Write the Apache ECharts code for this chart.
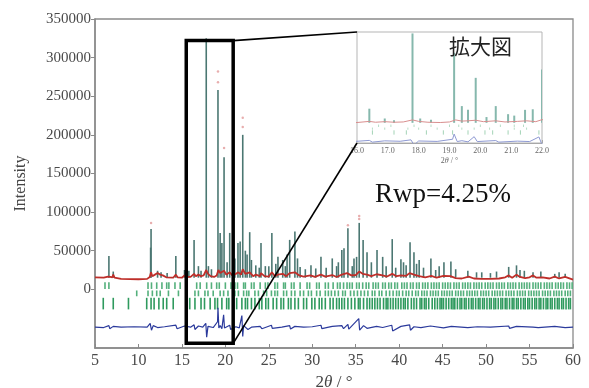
<!DOCTYPE html>
<html>
<head>
<meta charset="utf-8">
<script src="https://cdn.jsdelivr.net/npm/echarts@6/dist/echarts.min.js"></script>
<style>
  html, body { margin: 0; padding: 0; background: #fff; }
  #main { width: 589px; height: 388px; }
</style>
</head>
<body>
<div id="main"></div>
<script>
// observed reflections: position (2theta) and peak top (counts)
const peakPos = [6.6, 7.1, 11.4, 11.45, 12.2, 14.3, 15.3, 16.4, 16.9, 17.8, 18.05, 19.15, 19.4, 19.6, 19.85,
  20.2, 20.5, 21.1, 21.45, 21.7, 22.0, 22.5, 22.8, 23.5, 24.1, 24.6, 25.35, 26.05, 26.6, 27.4, 28.0, 28.6,
  29.85, 31.0, 32.3, 33.4, 33.65, 34.1, 34.6, 35.4, 35.85, 36.3, 37.45, 38.1, 39.2, 40.2, 40.8, 41.25, 41.7,
  42.3, 43.65, 45.15, 45.95, 47.9, 48.9, 52.6, 53.5, 53.9, 55.4, 57.9, 59.1];
const peakTop = [43000, 23000, 54000, 78000, 24000, 43000, 25000, 64000, 30000, 325000, 30000, 258000, 73000, 60000, 171000,
  35000, 73000, 40000, 60000, 62000, 200000, 45000, 74000, 31000, 60000, 30000, 73000, 42000, 38000, 64000, 75000, 29000,
  31000, 42000, 40000, 51000, 53000, 79000, 30000, 86000, 64000, 48000, 51000, 42000, 65000, 39000, 31000, 61000, 48000,
  38000, 40000, 35000, 36000, 24000, 22000, 29000, 31000, 25000, 22000, 20000, 20000];
// weaker reflections in the forest between the main peaks
const minorPos = [12.6, 13.3, 15.8, 17.2, 18.4, 20.9, 22.3, 23.0, 23.9, 25.0, 25.8, 26.9, 27.1, 28.3, 29.2, 30.4,
  31.6, 32.8, 33.0, 34.8, 35.1, 36.8, 38.5, 39.6, 40.5, 42.0, 42.8, 44.2, 44.6, 46.5, 49.5, 50.5, 51.2, 54.4, 56.3, 58.4];
const minorTop = [22000, 21000, 24000, 24000, 26000, 45000, 50000, 38000, 28000, 30000, 33000, 30000, 45000, 40000, 26000, 27000,
  28000, 30000, 35000, 40000, 42000, 35000, 30000, 28000, 35000, 33000, 28000, 25000, 30000, 26000, 22000, 21000, 23000, 24000, 23000, 22000];
const stickBase = 15000;

// observed points sitting above the strongest peaks
const obsDots = [[11.45, 86000], [19.15, 282000], [19.15, 268000], [19.85, 183000], [22.0, 222000],
  [22.0, 210000], [34.1, 83000], [35.4, 95000], [35.4, 91000]];

// calculated profile (red)
const calcX = [5.0, 6.0, 6.5, 6.6, 6.75, 7.0, 7.1, 7.25, 8.0, 10.0, 11.0, 11.3, 11.45, 11.6, 11.9, 12.2, 12.5, 12.8,
  13.2, 14.0, 14.3, 14.5, 15.0, 15.3, 15.6, 16.0, 16.4, 16.6, 16.9, 17.2, 17.5, 17.8, 18.0, 18.3, 18.7, 19.0, 19.2,
  19.4, 19.6, 19.85, 20.1, 20.5, 20.8, 21.2, 21.5, 21.8, 22.0, 22.3, 22.8, 23.2, 23.5, 24.0, 24.1, 24.5, 25.0, 25.35,
  25.7, 26.0, 26.6, 27.0, 27.4, 28.0, 28.5, 29.0, 29.8, 30.3, 31.0, 31.5, 32.3, 32.8, 33.4, 34.0, 34.5, 35.0, 35.4,
  35.8, 36.3, 36.8, 37.4, 38.1, 38.6, 39.2, 39.7, 40.2, 40.8, 41.2, 41.7, 42.3, 43.0, 43.7, 44.3, 45.1, 45.9, 46.5,
  47.2, 48.0, 48.6, 49.5, 50.5, 51.5, 52.2, 52.6, 53.0, 53.5, 53.9, 54.5, 55.0, 55.4, 55.8, 56.5, 57.3, 57.9, 58.4,
  59.1, 60.0];
const calcY = [15500, 15000, 16500, 19000, 16000, 15500, 19000, 15000, 13500, 13000, 13500, 16000, 22000, 17000, 19000, 21000, 19000, 18000,
  15500, 15000, 19000, 15500, 15000, 18000, 16000, 16000, 20000, 17000, 19000, 17000, 18000, 25000, 20000, 17000, 16000, 18000, 25000,
  21000, 22000, 24000, 19000, 22000, 18000, 20000, 22000, 19000, 26000, 20000, 22000, 17000, 19000, 17000, 21000, 17000, 16500, 22000,
  17000, 19000, 20000, 17000, 21000, 22000, 18000, 16500, 18000, 16000, 19000, 16500, 18500, 16000, 19000, 21000, 18000, 18500, 23000,
  20000, 19000, 17000, 19500, 18000, 16500, 20000, 17000, 18000, 17500, 21000, 19000, 17000, 15500, 17500, 15000, 17500, 17000, 14500,
  14000, 16500, 14000, 13500, 13500, 14000, 15500, 18000, 15000, 19000, 16000, 14500, 15500, 18000, 15000, 15500, 14000, 16500, 14000,
  16000, 12500];

// difference curve (blue)
const diffX = [5, 6.0, 6.6, 6.7, 7.1, 8, 9.5, 11.0, 11.35, 11.5, 11.7, 12.2, 13, 14.3, 14.45, 15.3, 16.0, 16.4, 16.5, 16.9,
  17.4, 17.75, 17.85, 18.0, 18.6, 19.1, 19.15, 19.25, 19.4, 19.6, 19.8, 19.9, 20.5, 20.6, 21.2, 21.6, 21.9, 22.0, 22.1,
  22.6, 23.0, 24.0, 24.2, 25.3, 25.4, 26.5, 27.4, 27.5, 28.0, 29, 30, 31, 31.1, 32.3, 33.4, 33.6, 34.1, 34.2, 35.35,
  35.45, 35.9, 36.3, 37.4, 38.1, 39.15, 39.25, 40.2, 41.2, 41.3, 41.7, 42.5, 43.6, 45.1, 46.0, 47.9, 49, 50.5, 52.6,
  52.7, 53.5, 55.4, 56, 57.9, 59.1, 60];
const diffY = [-49000, -49500, -47000, -51000, -48000, -49000, -48500, -49000, -44000, -53000, -47000, -49500, -48500, -46500, -51000, -47500, -49000, -46000, -52000, -47500,
  -49000, -44000, -62000, -48000, -49500, -42000, -24000, -50000, -47000, -51000, -33000, -50000, -46500, -52000, -48500, -50000, -34000, -61000, -47000,
  -52000, -49000, -48000, -51000, -46500, -50500, -49000, -47000, -51500, -48000, -49000, -48500, -46500, -51000, -48000, -47000, -51000, -45500, -51500, -38000,
  -53000, -47000, -50500, -48000, -49500, -46500, -54000, -48000, -46000, -53000, -48500, -49500, -47500, -50000, -48000, -49500, -48500, -49000, -47500,
  -50500, -48000, -49000, -49500, -48000, -49500, -49000];

// Bragg positions of the three phases (green tick rows)
const tickRow1 = [6.15, 6.6, 11.1, 11.5, 12.1, 12.7, 13.25, 13.5, 14.2, 14.8, 16.7, 17.1, 17.85, 18.4, 19.0, 19.3, 20.0,
  20.65, 21.1, 21.4, 22.1, 22.3, 23.0, 23.3, 24.0, 24.6, 24.9, 25.7, 26.0, 26.7, 26.9, 27.6, 27.9, 28.6, 29.4, 29.7,
  30.5, 30.8, 31.5, 31.85, 32.4, 32.9, 33.2, 33.6, 34.0, 34.3, 34.6, 35.1, 35.4, 35.8, 36.2, 36.5, 37.0, 37.3, 37.6,
  38.1, 38.4, 38.8, 39.1, 39.5, 39.8, 40.3, 40.6, 40.9, 41.3, 41.6, 42.0, 42.3, 42.7, 43.0, 43.3, 43.7, 44.0, 44.3,
  44.6, 45.0, 45.3, 45.6, 45.9, 46.3, 46.6, 46.9, 47.3, 47.6, 47.9, 48.2, 48.6, 48.9, 49.2, 49.5, 49.9, 50.2, 50.5,
  50.8, 51.2, 51.5, 51.8, 52.1, 52.5, 52.8, 53.1, 53.4, 53.8, 54.1, 54.4, 54.7, 55.0, 55.4, 55.7, 56.0, 56.3, 56.7,
  57.0, 57.3, 57.6, 58.0, 58.3, 58.6, 58.9, 59.3, 59.6, 59.9];
const tickRow2 = [9.8, 11.1, 11.6, 12.1, 12.5, 13.45, 14.6, 16.5, 16.9, 17.65, 18.0, 18.6, 19.4, 19.8, 20.3, 21.1, 21.5,
  22.1, 22.45, 22.7, 23.4, 23.8, 24.4, 24.75, 25.3, 25.7, 26.0, 26.7, 27.05, 27.6, 28.0, 28.6, 29.0, 29.55, 29.9, 30.5,
  30.9, 31.5, 31.85, 32.2, 32.6, 33.0, 33.5, 33.8, 34.4, 34.8, 35.2, 35.6, 36.0, 36.4, 36.9, 37.2, 37.7, 38.0, 38.5,
  38.9, 39.3, 39.7, 40.0, 40.4, 40.8, 41.1, 41.5, 41.9, 42.2, 42.6, 42.9, 43.2, 43.6, 43.9, 44.2, 44.5, 44.9, 45.2,
  45.5, 45.8, 46.1, 46.5, 46.8, 47.1, 47.4, 47.8, 48.1, 48.4, 48.7, 49.0, 49.4, 49.7, 50.0, 50.3, 50.7, 51.0, 51.3,
  51.6, 51.9, 52.3, 52.6, 52.9, 53.2, 53.6, 53.9, 54.2, 54.5, 54.9, 55.2, 55.5, 55.8, 56.1, 56.5, 56.8, 57.1, 57.4,
  57.8, 58.1, 58.4, 58.7, 59.1, 59.4, 59.7];
const tickRow3 = [5.95, 7.1, 8.85, 10.95, 11.45, 11.8, 12.35, 12.85, 13.25, 14.0, 15.9, 16.5, 17.2, 17.6, 18.25, 18.8,
  19.1, 19.6, 20.15, 20.4, 20.9, 21.3, 21.9, 22.3, 22.55, 23.0, 23.4, 23.9, 24.2, 24.65, 24.95, 25.5, 25.9, 26.4,
  26.7, 27.25, 27.55, 28.0, 28.4, 29.0, 29.35, 29.95, 30.3, 30.8, 31.1, 31.5, 32.05, 32.4, 32.8, 33.1, 33.4, 33.7,
  34.1, 34.5, 34.9, 35.3, 35.5, 35.9, 36.3, 36.6, 36.9, 37.2, 37.5, 37.8, 38.2, 38.5, 38.7, 39.0, 39.3, 39.6, 39.9,
  40.2, 40.5, 40.7, 41.0, 41.4, 41.7, 42.0, 42.4, 42.6, 42.9, 43.1, 43.4, 43.8, 44.1, 44.4, 44.7, 44.9, 45.1, 45.4,
  45.7, 46.0, 46.2, 46.4, 46.7, 47.0, 47.2, 47.5, 47.7, 48.0, 48.3, 48.5, 48.8, 49.1, 49.3, 49.6, 49.8, 50.1, 50.4,
  50.6, 50.9, 51.1, 51.4, 51.7, 51.9, 52.2, 52.4, 52.7, 53.0, 53.2, 53.5, 53.7, 54.0, 54.3, 54.5, 54.8, 55.0, 55.3,
  55.6, 55.8, 56.1, 56.3, 56.6, 56.9, 57.1, 57.4, 57.6, 57.9, 58.2, 58.4, 58.7, 58.9, 59.2, 59.5, 59.7];
// vertical extent of each tick row (counts)
const row1Span = [9000, 500];
const row2Span = [-1500, -9000];
const row3Span = [-11000, -26000];

const yTicks = [0, 50000, 100000, 150000, 200000, 250000, 300000, 350000];
const insetYTicks = [0, 50000, 100000, 150000, 200000, 250000, 300000];

// zoomed region marked on the main plot
const boxX = [15.5, 20.9];
const boxY = [-70000, 322000];
const insetX = [16, 22];
const insetY = [-55000, 330000];

const serif = 'Liberation Serif';
const chart = echarts.init(document.getElementById('main'));

const zip = (xs, ys) => xs.map((x, i) => [x, ys[i]]);
const sticks = zip(peakPos.concat(minorPos), peakTop.concat(minorTop)).map(p => [p[0], stickBase, p[1]]);
const rowData = (xs, span) => xs.map(x => [x, span[0], span[1]]);

function vline(color, width) {
  return function (params, api) {
    const a = api.coord([api.value(0), api.value(1)]);
    const b = api.coord([api.value(0), api.value(2)]);
    return {
      type: 'line',
      shape: { x1: a[0], y1: a[1], x2: b[0], y2: b[1] },
      style: { stroke: color, lineWidth: width }
    };
  };
}

function layers(idx, c, z0) {
  return [
    { type: 'custom', xAxisIndex: idx, yAxisIndex: idx, clip: true, renderItem: vline(c.tick, c.tickW), data: rowData(tickRow1, row1Span), z: z0 },
    { type: 'custom', xAxisIndex: idx, yAxisIndex: idx, clip: true, renderItem: vline(c.tick, c.tickW), data: rowData(tickRow2, row2Span), z: z0 },
    { type: 'custom', xAxisIndex: idx, yAxisIndex: idx, clip: true, renderItem: vline(c.tick3, c.tickW), data: rowData(tickRow3, row3Span), z: z0 },
    { type: 'custom', xAxisIndex: idx, yAxisIndex: idx, clip: true, renderItem: vline(c.obs, c.obsW), data: sticks, z: z0 + 1 },
    { type: 'line', xAxisIndex: idx, yAxisIndex: idx, data: zip(calcX, calcY), showSymbol: false, symbol: 'none',
      lineStyle: { color: c.calc, width: c.calcW }, z: z0 + 2 },
    { type: 'line', xAxisIndex: idx, yAxisIndex: idx, data: zip(diffX, diffY), showSymbol: false, symbol: 'none',
      lineStyle: { color: c.diff, width: c.diffW }, z: z0 + 2 },
    { type: 'scatter', xAxisIndex: idx, yAxisIndex: idx, data: obsDots, symbol: 'circle', symbolSize: c.dot,
      itemStyle: { color: '#e29a9a' }, z: z0 + 3 }
  ];
}

chart.setOption({
  animation: false,
  backgroundColor: '#fff',
  grid: [
    { left: 95, top: 19, right: 16, bottom: 40, outerBoundsMode: 'none', show: true, borderColor: '#8a8a8a', borderWidth: 1.3 },
    { left: 357, top: 32, right: 47, bottom: 245, outerBoundsMode: 'none', show: true, borderColor: '#b5b5b5', borderWidth: 1, backgroundColor: '#fff', z: 6 }
  ],
  xAxis: [
    {
      type: 'value', gridIndex: 0, min: 5, max: 60, interval: 5,
      axisLine: { onZero: false, lineStyle: { color: '#8a8a8a', width: 1.5 } },
      axisTick: { inside: true, length: 4, lineStyle: { color: '#8a8a8a' } },
      axisLabel: { fontFamily: serif, fontSize: 16, color: '#4a4a4a', margin: 5 },
      splitLine: { show: false },
      name: '2{i|θ} / °', nameLocation: 'middle', nameGap: 23,
      nameTextStyle: { fontFamily: serif, fontSize: 17, color: '#444',
        rich: { i: { fontFamily: serif, fontStyle: 'italic', fontSize: 17, color: '#444' } } }
    },
    {
      type: 'value', gridIndex: 1, min: insetX[0], max: insetX[1], interval: 1,
      axisLine: { onZero: false, lineStyle: { color: '#9a9a9a', width: 1 } },
      axisTick: { inside: true, length: 3, lineStyle: { color: '#9a9a9a' } },
      axisLabel: { fontFamily: serif, fontSize: 8, color: '#666', margin: 4, formatter: v => v.toFixed(1) },
      splitLine: { show: false },
      name: '2{i|θ} / °', nameLocation: 'middle', nameGap: 14,
      nameTextStyle: { fontFamily: serif, fontSize: 8, color: '#666',
        rich: { i: { fontFamily: serif, fontStyle: 'italic', fontSize: 8, color: '#666' } } }
    }
  ],
  yAxis: [
    {
      type: 'value', gridIndex: 0, min: -76000, max: 350000,
      axisLine: { onZero: false, lineStyle: { color: '#8a8a8a', width: 1.5 } },
      axisTick: { length: 4, customValues: yTicks, lineStyle: { color: '#8a8a8a' } },
      axisLabel: { fontFamily: serif, fontSize: 15, color: '#4a4a4a', margin: 4, customValues: yTicks,
        formatter: v => String(v) },
      splitLine: { show: false },
      name: 'Intensity', nameLocation: 'middle', nameGap: 66,
      nameTextStyle: { fontFamily: serif, fontSize: 16, color: '#444' }
    },
    {
      type: 'value', gridIndex: 1, min: insetY[0], max: insetY[1],
      axisLine: { onZero: false, lineStyle: { color: '#9a9a9a', width: 1 } },
      axisTick: { inside: true, length: 3, customValues: insetYTicks, lineStyle: { color: '#aaa' } },
      axisLabel: { show: false },
      splitLine: { show: false }
    }
  ],
  series: [
    ...layers(0, { tick: '#54b07c', tick3: '#2f9a5e', tickW: 1.6, obs: '#4b7772', obsW: 1.6,
      calc: '#be2f2a', calcW: 1.8, diff: '#2b3a9c', diffW: 1.2, dot: 2.5 }, 2),
    ...layers(1, { tick: '#b6ddc6', tick3: '#a3d3b6', tickW: 1, obs: '#86b8ad', obsW: 2,
      calc: '#d88e8e', calcW: 1, diff: '#8e99d2', diffW: 1, dot: 0 }, 10)
  ]
});

// zoom box, connector lines and texts placed through the axes
const bl = chart.convertToPixel({ xAxisIndex: 0, yAxisIndex: 0 }, [boxX[0], boxY[0]]);
const tr = chart.convertToPixel({ xAxisIndex: 0, yAxisIndex: 0 }, [boxX[1], boxY[1]]);
const iTop = chart.convertToPixel({ xAxisIndex: 1, yAxisIndex: 1 }, [insetX[0], insetY[1]]);
const iBot = chart.convertToPixel({ xAxisIndex: 1, yAxisIndex: 1 }, [insetX[0], insetY[0]]);

chart.setOption({
  graphic: [
    { type: 'rect', z: 100, shape: { x: bl[0], y: tr[1], width: tr[0] - bl[0], height: bl[1] - tr[1] },
      style: { fill: null, stroke: '#000', lineWidth: 3.5 } },
    { type: 'line', z: 100, shape: { x1: tr[0], y1: tr[1], x2: iTop[0], y2: iTop[1] },
      style: { stroke: '#000', lineWidth: 1.6 } },
    { type: 'line', z: 100, shape: { x1: tr[0], y1: bl[1], x2: iBot[0], y2: iBot[1] },
      style: { stroke: '#000', lineWidth: 1.6 } },
    { type: 'text', z: 100, left: 449, top: 36,
      style: { text: '拡大図', font: '21px "Noto Sans CJK JP"', fill: '#222' } },
    { type: 'text', z: 100, left: 375, top: 181,
      style: { text: 'Rwp=4.25%', font: '27px "Liberation Serif"', fill: '#111' } }
  ]
});
</script>
</body>
</html>
